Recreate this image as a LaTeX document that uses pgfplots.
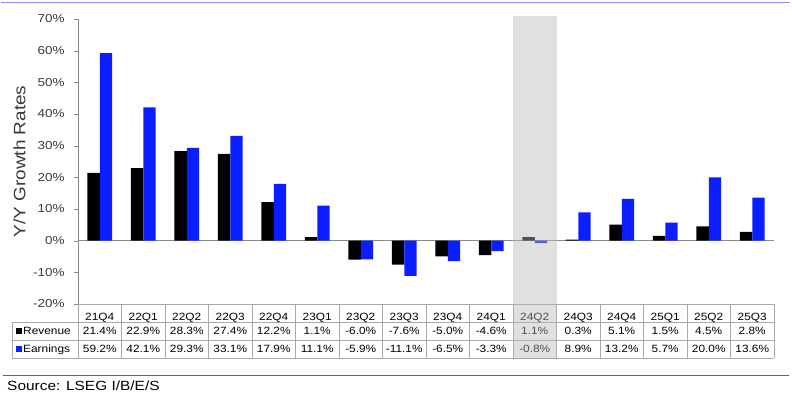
\documentclass[border=0pt]{standalone}
\usepackage{pgfplots}
\pgfplotsset{compat=1.18}
\usepackage{pgfplotstable}
\usepackage{fontspec}
\setmainfont{Liberation Sans}
\definecolor{barblue}{HTML}{0A1EFF}
\definecolor{tablegray}{HTML}{A8A8A8}
\definecolor{axisgray}{HTML}{8A8A8A}
\definecolor{labelgray}{HTML}{3A3A3A}
\definecolor{topline}{HTML}{8C8CFF}
\definecolor{botline}{HTML}{3D5CFF}
\pgfplotstableread{
q rev earn
21Q4 21.4 59.2
22Q1 22.9 42.1
22Q2 28.3 29.3
22Q3 27.4 33.1
22Q4 12.2 17.9
23Q1 1.1 11.1
23Q2 -6.0 -5.9
23Q3 -7.6 -11.1
23Q4 -5.0 -6.5
24Q1 -4.6 -3.3
24Q2 1.1 -0.8
24Q3 0.3 8.9
24Q4 5.1 13.2
25Q1 1.5 5.7
25Q2 4.5 20.0
25Q3 2.8 13.6
}\data
\newcommand\tabfont{\fontsize{10.5}{12}\selectfont}
\tikzset{tabtext/.style={font=\tabfont, xscale=1.13, text height=7.5pt, text depth=0pt, inner sep=0pt}}
\begin{document}
\begin{tikzpicture}[x=1pt,y=1pt]
\useasboundingbox (0,0) rectangle (792,395);
\draw[topline, line width=1pt] (1,392) -- (790,392);
\draw[botline, line width=1pt] (3,19) -- (789,19);
\node[anchor=base west, inner sep=0pt, font=\fontsize{13.3}{15}\selectfont, xscale=1.16] at (7,4) {Source: LSEG I/B/E/S};
\draw[tablegray, line width=0.8pt] (78,91) -- (774,91) (12,73) -- (774,73) (12,55) -- (774,55) (12,37) -- (774,37) (12,37) -- (12,73);
\foreach \k in {0,...,16} \draw[tablegray, line width=0.8pt] ({78+43.5*\k},37) -- ({78+43.5*\k},91);
\fill[black] (16,61) rectangle (22,67);
\fill[barblue] (16,43) rectangle (22,49);
\node[tabtext, anchor=west] at (23,64) {Revenue};
\node[tabtext, anchor=west] at (23,46) {Earnings};
\begin{axis}[
  at={(78pt,91pt)}, anchor=south west, scale only axis, width=696pt, height=285pt,
  xmin=-0.5, xmax=15.5, ymin=-20, ymax=70, clip=false,
  axis y line*=left, axis x line*=bottom,
  x axis line style={draw=none}, y axis line style={axisgray, -},
  xtick={0,...,15}, xticklabels from table={\data}{q}, xtick style={draw=none},
  ytick={-20,-10,...,70}, ytick style={axisgray}, tick align=outside, major tick length=4pt,
  /pgf/number format/assume math mode=true,
  yticklabel={\pgfmathprintnumber{\tick}\%},
  yticklabel style={font=\fontsize{11.6}{13}\selectfont, text=labelgray, xscale=1.16, anchor=east, inner sep=0pt, xshift=-8pt},
  xticklabel style={tabtext, anchor=center, yshift=-9pt},
  ylabel={Y/Y Growth Rates},
  ylabel style={at={(axis description cs:-0.084,0.5)}, anchor=center, font=\fontsize{16.5}{18}\selectfont, text=labelgray, xscale=1.15},
  extra y ticks={0}, extra y tick labels={}, extra y tick style={grid=major, major grid style={axisgray, line width=0.8pt}, tick style={draw=none}},
]
\addplot[ybar, bar width=12.3pt, bar shift=-6.15pt, fill=black, draw=none] table[x expr=\coordindex, y=rev]{\data};
\addplot[ybar, bar width=12.3pt, bar shift=6.15pt, fill=barblue, draw=none] table[x expr=\coordindex, y=earn]{\data};
\addplot[draw=none, mark=none, point meta=explicit,
  nodes near coords={\pgfmathprintnumber[fixed, fixed zerofill, precision=1]{\pgfplotspointmeta}\%},
  every node near coord/.append style={tabtext, anchor=center}]
  table[x expr=\coordindex, y expr=-28.53, meta=rev]{\data};
\addplot[draw=none, mark=none, point meta=explicit,
  nodes near coords={\pgfmathprintnumber[fixed, fixed zerofill, precision=1]{\pgfplotspointmeta}\%},
  every node near coord/.append style={tabtext, anchor=center}]
  table[x expr=\coordindex, y expr=-34.21, meta=earn]{\data};
\end{axis}
\fill[fill={rgb,255:red,184;green,184;blue,184}, fill opacity=0.435] (512.5,37) rectangle (556.5,379);
\end{tikzpicture}
\end{document}
